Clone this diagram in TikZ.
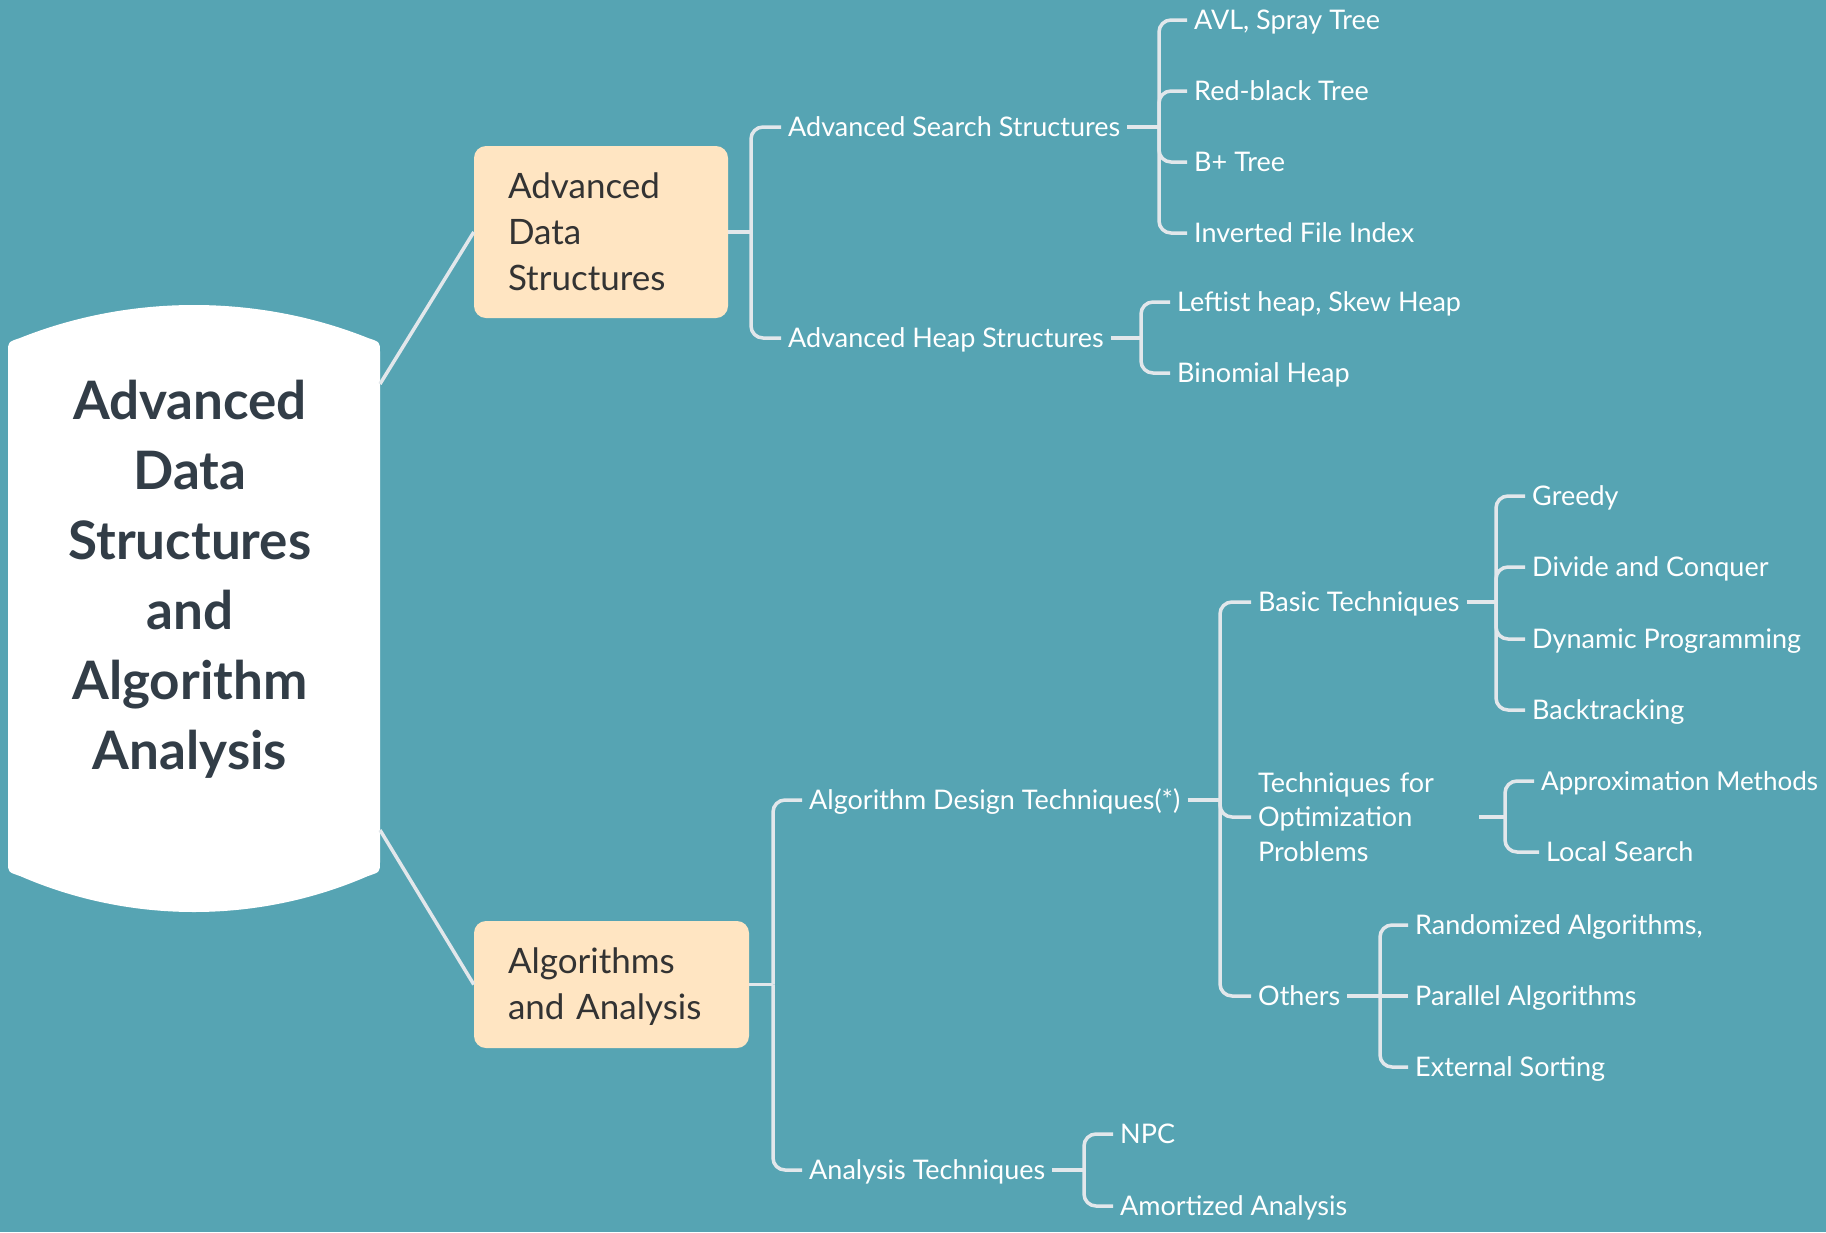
\documentclass[tikz,border=0pt]{standalone}
\usepackage{fontspec}
\setmainfont{Lato}
\definecolor{bg}{RGB}{86,164,179}
\definecolor{ln}{RGB}{226,231,235}
\definecolor{peach}{RGB}{255,229,194}
\definecolor{rootink}{RGB}{50,61,71}
\definecolor{boxink}{RGB}{51,51,51}
\begin{document}
\begin{tikzpicture}[x=1pt,y=-1pt,
  conn/.style={draw=ln, line width=3.5pt, rounded corners=12pt},
  leaf/.style={anchor=west, inner xsep=7pt, inner ysep=0pt, text=white,
    font=\fontsize{27}{34.5}\selectfont, text height=19.5pt, text depth=0pt},
  multileaf/.style={anchor=west, inner xsep=7pt, inner ysep=0pt, text=white,
    font=\fontsize{27}{34.5}\selectfont, align=left, text width=214pt},
  mainbox/.style={fill=peach, rounded corners=12pt, text=boxink, inner xsep=34pt,
    font=\fontsize{35}{46}\selectfont, align=left},
  roottext/.style={text=rootink, font=\fontsize{53}{70}\selectfont\bfseries, align=center}
]
\useasboundingbox (0,0) rectangle (1826,1232);
\fill[bg] (0,0) rectangle (1826,1232);

% root shape
\fill[white] (8,352) -- (8,862) .. controls (8,872) .. (20,876)
  .. controls (130,924) and (258,924) .. (368,876)
  .. controls (380,872) .. (380,862) -- (380,352)
  .. controls (380,342) .. (368,338)
  .. controls (258,294) and (130,294) .. (20,338)
  .. controls (8,342) .. (8,352) -- cycle;
\node[roottext] (root) at (190,579) {Advanced\\Data\\Structures\\and\\Algorithm\\Analysis};
\coordinate (rootNE) at (380,384);
\coordinate (rootSE) at (380,830);

% main boxes
\node[mainbox, minimum width=254pt, minimum height=172pt, text width=186pt] (ads) at (601,232)
  {Advanced\\Data\\Structures};
\node[mainbox, minimum width=275pt, minimum height=127pt, text width=207pt] (aa) at (611.5,984.5)
  {\rule{0pt}{30pt}Algorithms\\and Analysis};
\draw[conn] (rootNE) -- (ads.west);
\draw[conn] (rootSE) -- (aa.west);

% level 2
\node[leaf] (ass) at (781,127) {Advanced Search Structures};
\node[leaf] (ahs) at (781,338) {Advanced Heap Structures};
\node[leaf] (adt) at (802,800) {Algorithm Design Techniques(*)};
\node[leaf] (at) at (802,1170) {Analysis Techniques};

% level 3
\node[leaf] (avl) at (1187,20) {AVL, Spray Tree};
\node[leaf] (rb) at (1187,91) {Red-black Tree};
\node[leaf] (bp) at (1187,162) {B+ Tree};
\node[leaf] (inv) at (1187,233) {Inverted File Index};
\node[leaf] (lh) at (1170,302) {Leftist heap, Skew Heap};
\node[leaf] (bh) at (1170,373) {Binomial Heap};
\node[leaf] (bt) at (1251,602) {Basic Techniques};
\node[multileaf] (top) at (1251,817) {Techniques for\\Optimization\\Problems};
\node[leaf] (oth) at (1251,996) {Others};
\node[leaf] (npc) at (1113,1134) {NPC};
\node[leaf] (amz) at (1113,1206) {Amortized Analysis};

% level 4
\node[leaf] (gr) at (1525,496) {Greedy};
\node[leaf] (dc) at (1525,567) {Divide and Conquer};
\node[leaf] (dp) at (1525,639) {Dynamic Programming};
\node[leaf] (bk) at (1525,710) {Backtracking};
\node[leaf, font=\fontsize{26}{34.5}\selectfont] (am) at (1534,781) {Approximation Methods};
\node[leaf] (ls) at (1539,852) {Local Search};
\node[leaf] (ra) at (1408,925) {Randomized Algorithms,};
\node[leaf] (pa) at (1408,996) {Parallel Algorithms};
\node[leaf] (es) at (1408,1067) {External Sorting};

% trunks
\coordinate (tads) at (751,232);
\coordinate (taa) at (773,984.5);
\coordinate (tass) at (1159,127);
\coordinate (tahs) at (1141,338);
\coordinate (tadt) at (1220,800);
\coordinate (tat) at (1084,1170);
\coordinate (tbt) at (1496,602);
\coordinate (ttop) at (1505,817);
\coordinate (toth) at (1380,996);

\draw[conn] (ads.east) -- (tads);
\draw[conn] (tads) |- (ass.west);
\draw[conn] (tads) |- (ahs.west);

\draw[conn] (aa.east) -- (taa);
\draw[conn] (taa) |- (adt.west);
\draw[conn] (taa) |- (at.west);

\draw[conn] (ass.east) -- (tass);
\foreach \c in {avl,rb,bp,inv} \draw[conn] (tass) |- (\c.west);

\draw[conn] (ahs.east) -- (tahs);
\foreach \c in {lh,bh} \draw[conn] (tahs) |- (\c.west);

\draw[conn] (adt.east) -- (tadt);
\foreach \c in {bt,top,oth} \draw[conn] (tadt) |- (\c.west);

\draw[conn] (at.east) -- (tat);
\foreach \c in {npc,amz} \draw[conn] (tat) |- (\c.west);

\draw[conn] (bt.east) -- (tbt);
\foreach \c in {gr,dc,dp,bk} \draw[conn] (tbt) |- (\c.west);

\draw[conn] (top.east) -- (ttop);
\foreach \c in {am,ls} \draw[conn] (ttop) |- (\c.west);

\draw[conn] (oth.east) -- (toth);
\foreach \c in {ra,es} \draw[conn] (toth) |- (\c.west);
\draw[conn] (toth) -- (pa.west);
\end{tikzpicture}
\end{document}
